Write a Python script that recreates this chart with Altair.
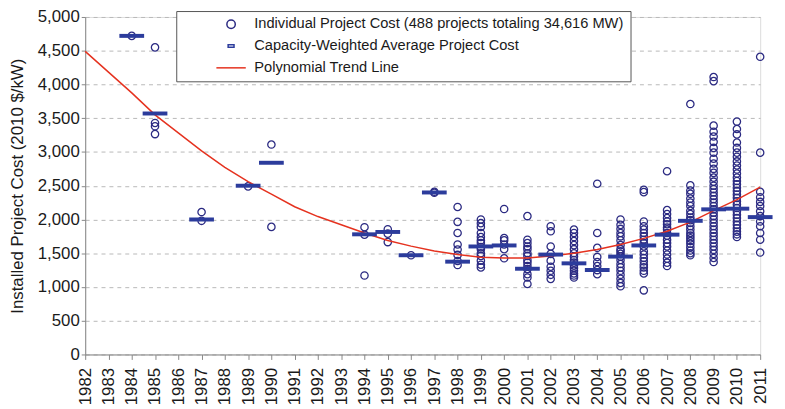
import altair as alt
import pandas as pd

# ---------------- data ----------------
p1984 = [4720]
p1985 = [4550, 3430, 3380, 3265]
p1987 = [2110, 1980]
p1989 = [2490]
p1990 = [3110, 1890]
p1994 = [1885, 1775, 1170]
p1995 = [1855, 1790, 1665]
p1996 = [1470]
p1997 = [2410, 2395]
p1998 = [2185, 1965, 1800, 1630, 1555, 1475, 1385, 1325]
p1999 = [2000, 1945, 1890, 1800, 1740, 1690, 1650, 1590, 1560, 1500, 1460, 1390, 1330, 1290]
p2000 = [2155, 1725, 1690, 1630, 1560, 1425]
p2001 = [2050, 1700, 1650, 1600, 1560, 1500, 1460, 1400, 1360, 1310, 1265, 1190, 1140, 1045]
p2002 = [1900, 1825, 1600, 1490, 1390, 1300, 1240, 1180, 1120]
p2003 = [1850, 1800, 1740, 1680, 1620, 1560, 1500, 1450, 1400, 1360, 1320, 1280, 1240, 1200, 1170, 1140]
p2004 = [2530, 1800, 1580, 1445, 1370, 1310, 1250, 1190]
p2005 = [2000, 1920, 1860, 1800, 1750, 1690, 1620, 1560, 1530, 1490, 1450, 1400, 1340, 1290,
         1240, 1180, 1120, 1060, 1010]
p2006 = [2440, 2405, 1970, 1900, 1850, 1800, 1750, 1700, 1650, 1600, 1530, 1480, 1430, 1380,
         1330, 1290, 1240, 1200, 950]
p2007 = [2715, 2140, 2080, 2020, 1970, 1930, 1880, 1850, 1800, 1760, 1700, 1650, 1600, 1540,
         1480, 1420, 1360, 1310]
p2008 = [3710, 2505, 2430, 2380, 2310, 2250, 2200, 2130, 2080, 2030, 1990, 1950, 1900, 1850,
         1800, 1760, 1720, 1680, 1640, 1590, 1540, 1500, 1470]
p2009 = [4110, 4050, 3390, 3300, 3230, 3150, 3060, 2990, 2900, 2830, 2750, 2690, 2620, 2560,
         2500, 2450, 2400, 2350, 2300, 2250, 2200, 2150, 2100, 2050, 2000, 1950, 1900, 1850,
         1800, 1750, 1700, 1650, 1600, 1550, 1490, 1430, 1370]
p2010 = [3450, 3340, 3260, 3140, 3060, 2990, 2930, 2860, 2800, 2740, 2680, 2620, 2570, 2520,
         2470, 2420, 2370, 2320, 2270, 2220, 2170, 2120, 2070, 2020, 1970, 1920, 1870, 1820,
         1780, 1740]
p2011 = [4410, 2990, 2410, 2330, 2260, 2200, 2120, 2050, 1970, 1900, 1800, 1700, 1510]

mean_years = [1984, 1985, 1987, 1989, 1990, 1994, 1995, 1996, 1997, 1998, 1999, 2000,
              2001, 2002, 2003, 2004, 2005, 2006, 2007, 2008, 2009, 2010, 2011]
mean_costs = [4720, 3570, 2000, 2500, 2840, 1780, 1815, 1470, 2400, 1375, 1600, 1615,
              1270, 1480, 1350, 1250, 1450, 1615, 1775, 1980, 2150, 2160, 2035]

trend_years = list(range(1982, 2012))
trend_costs = [4490, 4183, 3876, 3550, 3283, 3016, 2772, 2560, 2375, 2189, 2043, 1921,
               1799, 1688, 1605, 1532, 1480, 1440, 1428, 1428, 1459, 1500, 1556, 1629,
               1720, 1825, 1960, 2130, 2295, 2480]

axis_years = list(range(1982, 2012))
y_ticks = list(range(0, 5001, 500))

L1 = "Individual Project Cost (488 projects totaling 34,616 MW)"
L2 = "Capacity-Weighted Average Project Cost"
L3 = "Polynomial Trend Line"

# ---------------- tables ----------------
groups = {1984: p1984, 1985: p1985, 1987: p1987, 1989: p1989, 1990: p1990, 1994: p1994,
          1995: p1995, 1996: p1996, 1997: p1997, 1998: p1998, 1999: p1999, 2000: p2000,
          2001: p2001, 2002: p2002, 2003: p2003, 2004: p2004, 2005: p2005, 2006: p2006,
          2007: p2007, 2008: p2008, 2009: p2009, 2010: p2010, 2011: p2011}
rows = []
for yr, vals in groups.items():
    for v in vals:
        rows.append({"year": yr, "cost": v, "series": L1})
points_df = pd.DataFrame(rows)
means_df = pd.DataFrame({"year": mean_years, "cost": mean_costs})
trend_df = pd.DataFrame({"year": trend_years, "cost": trend_costs})

FONT = "Liberation Sans"
NAVY = "#2b2a82"
BLUE = "#2c3c9c"
RED = "#e5321f"
DASH = "M-0.7,-0.3H0.7V0.3H-0.7Z"
LINE = "M-3.5,0H3.5"

x_scale = alt.Scale(domain=[1982, 2011], nice=False, zero=False)
y_scale = alt.Scale(domain=[0, 5000], nice=False, zero=True)

x_axis = alt.Axis(values=axis_years, format="d", labelAngle=-90, labelFontSize=17,
                  labelFont=FONT, labelColor="#1a1a1a", tickSize=5, tickColor="#888",
                  domainColor="#888", grid=False, labelPadding=8, title=None,
                  labelOverlap=False, labelFlush=False)
y_axis = alt.Axis(values=y_ticks, format=",.0f", labelFontSize=17, labelFont=FONT,
                  labelColor="#1a1a1a", tickSize=4, tickColor="#888",
                  domainColor="#888", labelPadding=2, grid=True, gridDash=[4, 4],
                  gridColor="#b8b8b8", title="Installed Project Cost (2010 $/kW)",
                  titleFont=FONT, titleFontSize=17, titleFontWeight="normal",
                  titleColor="#1a1a1a", titlePadding=11, labelOverlap=False,
                  labelFlush=False)


def xe():
    return alt.X("year:Q", scale=x_scale, axis=x_axis)


def ye():
    return alt.Y("cost:Q", scale=y_scale, axis=y_axis)


legend = alt.Legend(title=None, orient="none", legendX=92, legendY=-6, direction="vertical",
                    labelFontSize=14.8, labelFont=FONT, labelColor="#1a1a1a", labelLimit=600,
                    symbolSize=72, symbolStrokeWidth=1.5, symbolOffset=42, labelOffset=16,
                    padding=6, rowPadding=6, strokeColor="#555", fillColor="white")

points = alt.Chart(points_df).mark_point(filled=False, size=55, strokeWidth=1.3, opacity=1).encode(
    x=xe(), y=ye(),
    color=alt.Color("series:N", scale=alt.Scale(domain=[L1, L2, L3], range=[NAVY, BLUE, RED]),
                    legend=legend),
    shape=alt.Shape("series:N", scale=alt.Scale(domain=[L1, L2, L3], range=["circle", DASH, LINE]),
                    legend=legend),
)

trend = alt.Chart(trend_df).mark_line(color=RED, strokeWidth=1.5).encode(x=xe(), y=ye())

means = alt.Chart(means_df).mark_tick(orient="horizontal", size=25, thickness=4, color=BLUE,
                                      opacity=1).encode(x=xe(), y=ye())

chart = alt.layer(points, trend, means).properties(
    width=682, height=341, autosize="none",
    padding={"left": 78, "top": 7, "right": 17, "bottom": 50},
).configure_view(stroke=None).configure(font=FONT)

chart.save("out.html", embed_options={"renderer": "svg", "actions": False})
